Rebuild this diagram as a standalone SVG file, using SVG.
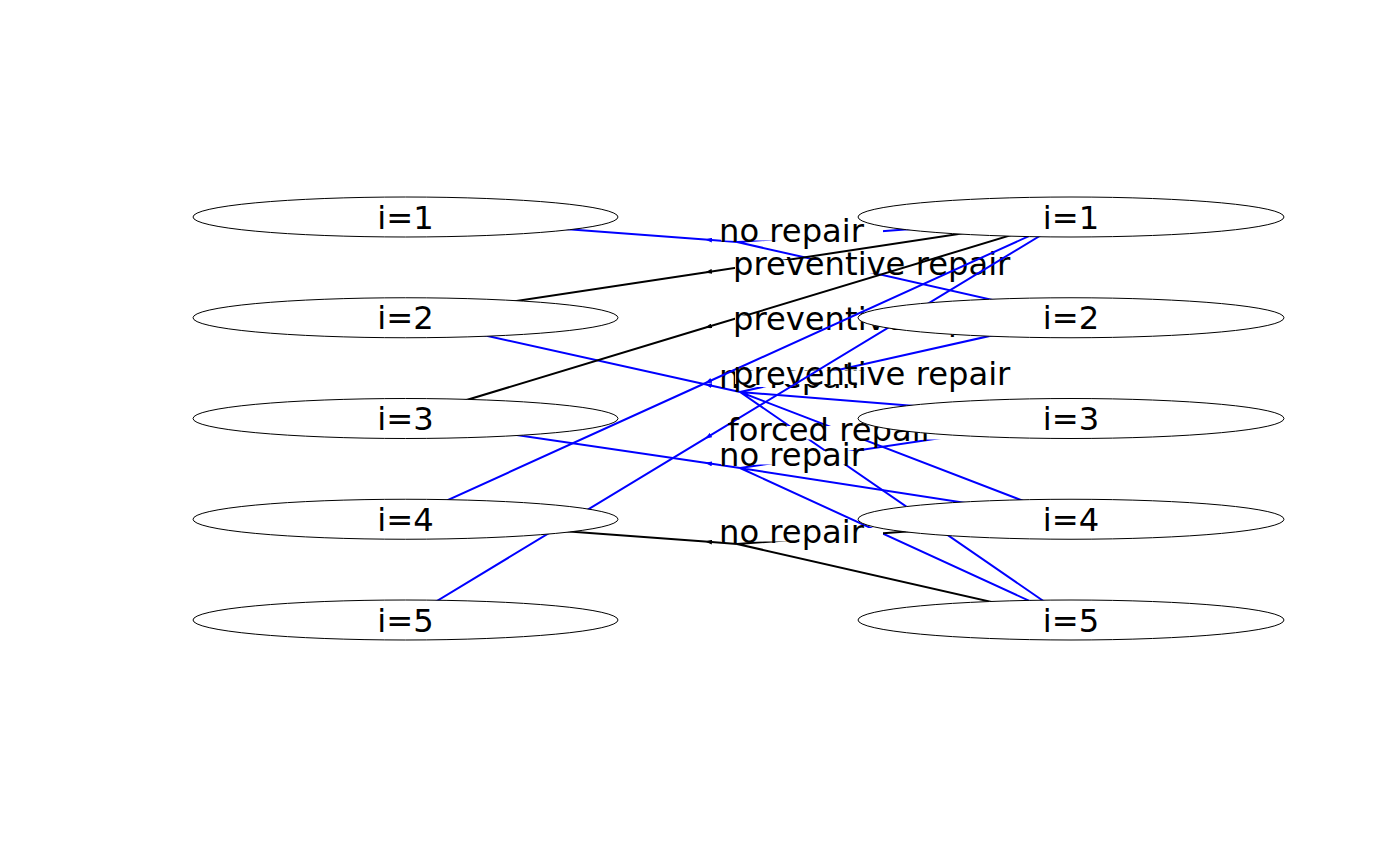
<svg xmlns="http://www.w3.org/2000/svg" width="1400" height="866" viewBox="0 0 1400 866">
<style>
.c{fill:none;stroke-width:2}
.b{stroke:#0000ff}
.k{stroke:#000000}
.lb{fill:#ffffff;stroke:none}
text{font-family:"DejaVu Sans","Liberation Sans",sans-serif;font-size:32.2px;fill:#000000}
.nd ellipse{fill:#ffffff;stroke:#000000;stroke-width:1}
.nd text{text-anchor:middle}
.mb{marker-mid:url(#ab)}
.mk{marker-mid:url(#ak)}
</style>
<defs>
<marker id="ab" viewBox="0 0 7 5" refX="7" refY="2.5" markerWidth="7" markerHeight="5" markerUnits="userSpaceOnUse" orient="auto"><path d="M0,0 L7,2.5 L0,5 z" fill="#0000ff"/></marker>
<marker id="ak" viewBox="0 0 7 5" refX="7" refY="2.5" markerWidth="7" markerHeight="5" markerUnits="userSpaceOnUse" orient="auto"><path d="M0,0 L7,2.5 L0,5 z" fill="#000000"/></marker>
</defs>
<rect width="1400" height="866" fill="#ffffff"/>
<g id="connectors">
 <g id="arc-1-no-repair">
  <path class="c b mb" d="M737,242 L705,239.59 L405.5,217"/>
  <path class="c b" d="M737,242 L1071,217 M737,242 L1071,317.75"/>
  <rect class="lb" x="721" y="227" width="162" height="13.5"/>
  <text x="719" y="241.5">no repair</text>
 </g>
 <g id="arc-2-no-repair">
  <path class="c b mb" d="M740,392 L705,384.23 L405.5,317.75"/>
  <path class="c b" d="M740,392 L1071,317.75 M740,392 L1071,418.5 M740,392 L1071,519.25 M740,392 L1071,620"/>
  <rect class="lb" x="721" y="373.5" width="162" height="13.5"/>
  <text x="719" y="388">no repair</text>
 </g>
 <g id="arc-2-preventive-repair">
  <path class="c k mk" d="M1071,217 L705,272.41 L405.5,317.75"/>
  <rect class="lb" x="735" y="260" width="312" height="13.5"/>
  <text x="733" y="274.5">preventive repair</text>
 </g>
 <g id="arc-3-no-repair">
  <path class="c b mb" d="M740,468 L705,462.82 L405.5,418.5"/>
  <path class="c b" d="M740,468 L1071,418.5 M740,468 L1071,519.25 M740,468 L1071,620"/>
  <rect class="lb" x="721" y="451" width="162" height="13.5"/>
  <text x="719" y="465.5">no repair</text>
 </g>
 <g id="arc-3-preventive-repair">
  <path class="c k mk" d="M1071,217 L705,327.82 L405.5,418.5"/>
  <rect class="lb" x="735" y="315.5" width="312" height="13.5"/>
  <text x="733" y="330">preventive repair</text>
 </g>
 <g id="arc-4-no-repair">
  <path class="c k mk" d="M737,544 L705,541.61 L405.5,519.25"/>
  <path class="c k" d="M737,544 L1071,519.25 M737,544 L1071,620"/>
  <rect class="lb" x="721" y="528" width="162" height="13.5"/>
  <text x="719" y="542.5">no repair</text>
 </g>
 <g id="arc-4-preventive-repair">
  <path class="c b mb" d="M1071,217 L705,383.23 L405.5,519.25"/>
  <rect class="lb" x="735" y="370.5" width="312" height="13.5"/>
  <text x="733" y="385">preventive repair</text>
 </g>
 <g id="arc-5-forced-repair">
  <path class="c b mb" d="M1071,217 L705,438.63 L405.5,620"/>
  <rect class="lb" x="729" y="426" width="232" height="13.5"/>
  <text x="727.5" y="440.5">forced repair</text>
 </g>
</g>
<g id="L1" class="nd"><ellipse cx="405.5" cy="217" rx="212.5" ry="20"/><text x="405.5" y="228.5">i=1</text></g>
<g id="L2" class="nd"><ellipse cx="405.5" cy="317.75" rx="212.5" ry="20"/><text x="405.5" y="329.25">i=2</text></g>
<g id="L3" class="nd"><ellipse cx="405.5" cy="418.5" rx="212.5" ry="20"/><text x="405.5" y="430">i=3</text></g>
<g id="L4" class="nd"><ellipse cx="405.5" cy="519.25" rx="212.5" ry="20"/><text x="405.5" y="530.75">i=4</text></g>
<g id="L5" class="nd"><ellipse cx="405.5" cy="620" rx="212.5" ry="20"/><text x="405.5" y="631.5">i=5</text></g>
<g id="R1" class="nd"><ellipse cx="1071" cy="217" rx="213" ry="20"/><text x="1071" y="228.5">i=1</text></g>
<g id="R2" class="nd"><ellipse cx="1071" cy="317.75" rx="213" ry="20"/><text x="1071" y="329.25">i=2</text></g>
<g id="R3" class="nd"><ellipse cx="1071" cy="418.5" rx="213" ry="20"/><text x="1071" y="430">i=3</text></g>
<g id="R4" class="nd"><ellipse cx="1071" cy="519.25" rx="213" ry="20"/><text x="1071" y="530.75">i=4</text></g>
<g id="R5" class="nd"><ellipse cx="1071" cy="620" rx="213" ry="20"/><text x="1071" y="631.5">i=5</text></g>
</svg>
